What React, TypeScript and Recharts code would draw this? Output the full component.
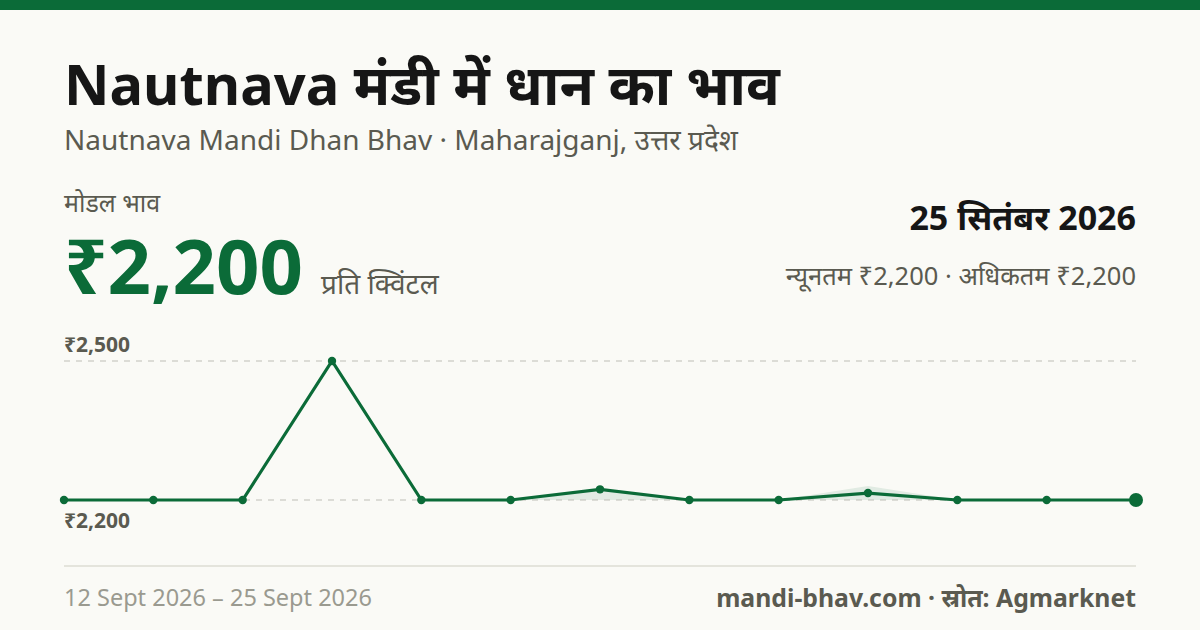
import React from "react";
import { ComposedChart, Line, Area, XAxis, YAxis, ReferenceLine } from "recharts";

const dates = ["12 Sept", "13 Sept", "14 Sept", "15 Sept", "16 Sept", "17 Sept", "18 Sept", "19 Sept", "20 Sept", "22 Sept", "23 Sept", "24 Sept", "25 Sept"];
const modalPrices = [2200, 2200, 2200, 2500, 2200, 2200, 2223, 2200, 2200, 2215, 2200, 2200, 2200];
const minPrices = [2200, 2200, 2200, 2500, 2200, 2200, 2200, 2200, 2200, 2200, 2200, 2200, 2200];
const maxPrices = [2200, 2200, 2200, 2500, 2200, 2200, 2223, 2200, 2200, 2230, 2200, 2200, 2200];
const yTicks = [2200, 2500];
const yTickLabels = ["₹2,200", "₹2,500"];

const data = dates.map((d, i) => ({
  date: d,
  modal: modalPrices[i],
  range: [minPrices[i], maxPrices[i]],
}));

const GREEN = "#0b6b38";
const FONT = "'Noto Sans', 'Noto Sans Devanagari', sans-serif";

const renderDot = (props: any) => {
  const { cx, cy, index } = props;
  const last = index === data.length - 1;
  return <circle key={`d${index}`} cx={cx} cy={cy} r={last ? 7 : 4.2} fill={GREEN} stroke="none" />;
};

const tickLabel = (text: string, above: boolean) => (props: any) => {
  const vb = props.viewBox || {};
  const x = vb.x ?? 64;
  const y = vb.y ?? 0;
  return (
    <text
      x={x}
      y={above ? y - 9 : y + 28}
      fill="#5a5a50"
      fontSize={21}
      fontWeight={700}
      fontFamily={FONT}
      textAnchor="start"
    >
      {text}
    </text>
  );
};

export default function App() {
  return (
    <div
      style={{
        position: "fixed",
        top: 0,
        left: 0,
        width: 1200,
        height: 630,
        background: "#fafaf6",
        fontFamily: FONT,
        overflow: "hidden",
      }}
    >
      <div style={{ position: "absolute", top: 0, left: 0, width: 1200, height: 10, background: GREEN }} />
      <div
        style={{
          position: "absolute",
          left: 64,
          top: 47,
          fontSize: 56,
          fontWeight: 700,
          color: "#161616",
          lineHeight: "72px",
          whiteSpace: "nowrap",
        }}
      >
        Nautnava मंडी में धान का भाव
      </div>
      <div
        style={{
          position: "absolute",
          left: 64,
          top: 121,
          fontSize: 28,
          color: "#5a5a50",
          lineHeight: "36px",
          whiteSpace: "nowrap",
        }}
      >
        Nautnava Mandi Dhan Bhav · Maharajganj, उत्तर प्रदेश
      </div>
      <div
        style={{ position: "absolute", left: 64, top: 188, fontSize: 25, color: "#5a5a50", lineHeight: "28px", whiteSpace: "nowrap" }}
      >
        मोडल भाव
      </div>
      <div
        style={{
          position: "absolute",
          left: 64,
          top: 225,
          whiteSpace: "nowrap",
          lineHeight: "80px",
        }}
      >
        <span style={{ fontSize: 76, fontWeight: 700, color: GREEN }}>₹2,200</span>
        <span style={{ fontSize: 28, color: "#5a5a50", marginLeft: 18 }}>प्रति क्विंटल</span>
      </div>
      <div
        style={{
          position: "absolute",
          right: 64,
          top: 195,
          fontSize: 34,
          fontWeight: 700,
          color: "#161616",
          lineHeight: "44px",
          whiteSpace: "nowrap",
          textAlign: "right",
        }}
      >
        25 सितंबर 2026
      </div>
      <div
        style={{
          position: "absolute",
          right: 64,
          top: 258,
          fontSize: 25.5,
          color: "#5a5a50",
          lineHeight: "34px",
          whiteSpace: "nowrap",
          textAlign: "right",
        }}
      >
        न्यूनतम ₹2,200 · अधिकतम ₹2,200
      </div>

      <div style={{ position: "absolute", left: 0, top: 320 }}>
        <ComposedChart width={1200} height={230} data={data} margin={{ top: 41, right: 64, bottom: 50, left: 64 }}>
          <XAxis dataKey="date" hide scale="point" padding={{ left: 0, right: 0 }} />
          <YAxis hide domain={[2200, 2500]} ticks={yTicks} />
          <ReferenceLine
            y={yTicks[1]}
            stroke="#bdbdb5"
            strokeDasharray="6 6"
            strokeWidth={1.2}
            label={tickLabel(yTickLabels[1], true)}
          />
          <ReferenceLine
            y={yTicks[0]}
            stroke="#bdbdb5"
            strokeDasharray="6 6"
            strokeWidth={1.2}
            label={tickLabel(yTickLabels[0], false)}
          />
          <Area
            dataKey="range"
            stroke="none"
            fill={GREEN}
            fillOpacity={0.1}
            isAnimationActive={false}
            activeDot={false}
          />
          <Line
            dataKey="modal"
            stroke={GREEN}
            strokeWidth={3.2}
            dot={renderDot}
            activeDot={false}
            isAnimationActive={false}
          />
        </ComposedChart>
      </div>

      <div style={{ position: "absolute", left: 64, top: 565, width: 1072, height: 2, background: "#e4e4dc" }} />
      <div
        style={{ position: "absolute", left: 64, top: 581, fontSize: 23.5, color: "#9a9a90", lineHeight: "32px", whiteSpace: "nowrap" }}
      >
        12 Sept 2026 – 25 Sept 2026
      </div>
      <div
        style={{
          position: "absolute",
          right: 64,
          top: 581,
          fontSize: 24.8,
          fontWeight: 700,
          color: "#5a5a50",
          lineHeight: "32px",
          whiteSpace: "nowrap",
        }}
      >
        mandi-bhav.com · स्रोत: Agmarknet
      </div>
    </div>
  );
}
